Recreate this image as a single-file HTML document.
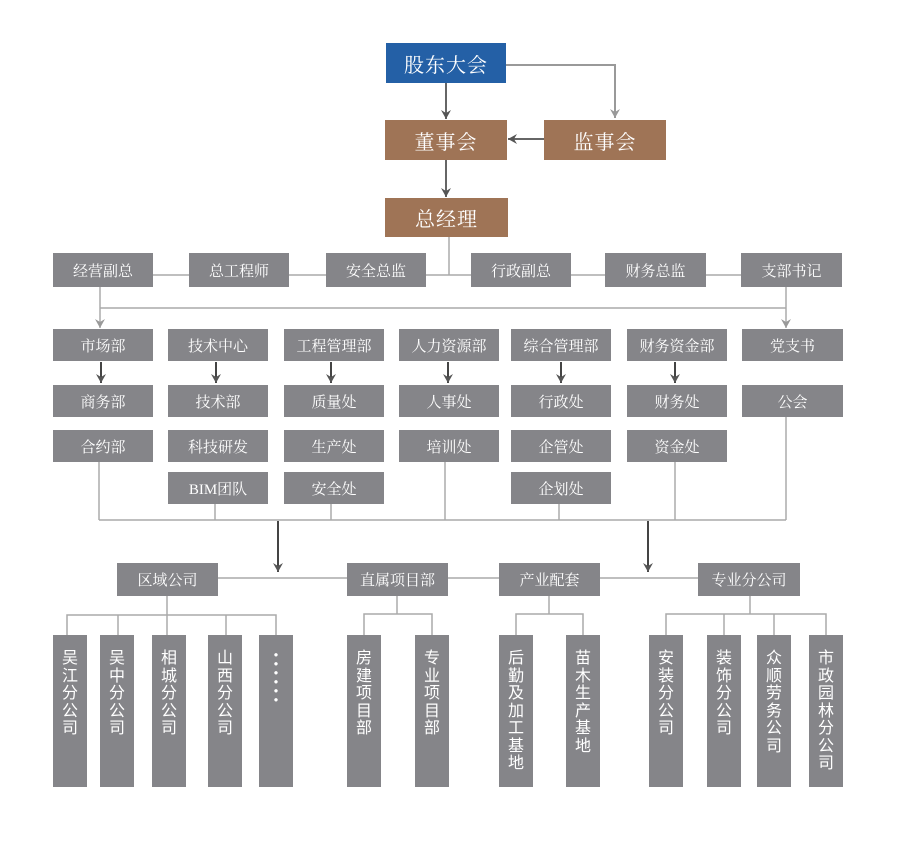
<!DOCTYPE html>
<html><head><meta charset="utf-8"><style>
body{margin:0;background:#fff;width:900px;height:850px;position:relative;overflow:hidden;font-family:"Liberation Serif","Noto Serif CJK SC","Noto Sans CJK SC",serif;}
.b{position:absolute;background:#858589;color:#fff;display:flex;align-items:center;justify-content:center;font-size:15px;white-space:nowrap;}
.t{font-size:20px;letter-spacing:1px}
.v{position:absolute;background:#858589;color:#fff;font-size:16px;line-height:17.5px;width:34px;text-align:center;top:635px;height:152px;padding-top:13px;box-sizing:border-box;font-family:"Noto Sans CJK SC",sans-serif;}
svg{position:absolute;left:0;top:0}
</style></head><body>
<svg width="900" height="850">
<defs>
<marker id="a" markerWidth="10" markerHeight="10" refX="9" refY="5" orient="auto" markerUnits="userSpaceOnUse"><path d="M0,0 L9,5 L0,10 L3,5 Z" fill="#555"/></marker>
<marker id="l" markerWidth="10" markerHeight="10" refX="9" refY="5" orient="auto" markerUnits="userSpaceOnUse"><path d="M0,0 L9,5 L0,10 L3,5 Z" fill="#999"/></marker>
</defs>
<g stroke="#666" stroke-width="2" fill="none">
<line x1="446" y1="83" x2="446" y2="119" marker-end="url(#a)"/>
<line x1="446" y1="160" x2="446" y2="197" marker-end="url(#a)"/>
<line x1="544" y1="139" x2="508" y2="139" marker-end="url(#a)"/>
</g>
<polyline points="506,65 615,65 615,118" stroke="#999" stroke-width="2" fill="none" marker-end="url(#l)"/>
<g stroke="#aaa" stroke-width="1.5" fill="none">
<line x1="449" y1="237" x2="449" y2="275"/>
<line x1="153" y1="275" x2="741" y2="275"/>
<line x1="100" y1="287" x2="100" y2="328" marker-end="url(#l)"/>
<line x1="786" y1="287" x2="786" y2="328" marker-end="url(#l)"/>
<line x1="100" y1="308" x2="786" y2="308"/>
<line x1="99" y1="462" x2="99" y2="520"/>
<line x1="215" y1="504" x2="215" y2="520"/>
<line x1="331" y1="504" x2="331" y2="520"/>
<line x1="445" y1="462" x2="445" y2="520"/>
<line x1="559" y1="504" x2="559" y2="520"/>
<line x1="675" y1="462" x2="675" y2="520"/>
<line x1="786" y1="417" x2="786" y2="520"/>
<line x1="99" y1="520" x2="786" y2="520"/>
<line x1="218" y1="578" x2="698" y2="578"/>
<line x1="167" y1="596" x2="167" y2="635"/>
<polyline points="67,635 67,615 276,615 276,635"/>
<line x1="118" y1="615" x2="118" y2="635"/>
<line x1="226" y1="615" x2="226" y2="635"/>
<line x1="397" y1="596" x2="397" y2="614"/>
<polyline points="364,635 364,614 432,614 432,635"/>
<line x1="549" y1="596" x2="549" y2="614"/>
<polyline points="516,635 516,614 583,614 583,635"/>
<line x1="750" y1="596" x2="750" y2="614"/>
<polyline points="666,635 666,614 826,614 826,635"/>
<line x1="724" y1="614" x2="724" y2="635"/>
<line x1="774" y1="614" x2="774" y2="635"/>
</g>
<g stroke="#444" stroke-width="2" fill="none">
<line x1="278" y1="521" x2="278" y2="572" marker-end="url(#a)"/>
<line x1="648" y1="521" x2="648" y2="572" marker-end="url(#a)"/>
<line x1="101" y1="362" x2="101" y2="383" marker-end="url(#a)"/>
<line x1="216" y1="362" x2="216" y2="383" marker-end="url(#a)"/>
<line x1="331" y1="362" x2="331" y2="383" marker-end="url(#a)"/>
<line x1="448" y1="362" x2="448" y2="383" marker-end="url(#a)"/>
<line x1="561" y1="362" x2="561" y2="383" marker-end="url(#a)"/>
<line x1="675" y1="362" x2="675" y2="383" marker-end="url(#a)"/>
</g>
</svg>

<div class="b t" style="left:386px;top:43px;width:120px;height:40px;background:#2460a6">股东大会</div>
<div class="b t" style="left:385px;top:120px;width:122px;height:40px;background:#9f7456">董事会</div>
<div class="b t" style="left:544px;top:120px;width:122px;height:40px;background:#9f7456">监事会</div>
<div class="b t" style="left:385px;top:198px;width:123px;height:39px;background:#9f7456">总经理</div>

<div class="b" style="left:53px;top:253px;width:100px;height:34px">经营副总</div>
<div class="b" style="left:189px;top:253px;width:100px;height:34px">总工程师</div>
<div class="b" style="left:326px;top:253px;width:100px;height:34px">安全总监</div>
<div class="b" style="left:471px;top:253px;width:100px;height:34px">行政副总</div>
<div class="b" style="left:605px;top:253px;width:101px;height:34px">财务总监</div>
<div class="b" style="left:741px;top:253px;width:101px;height:34px">支部书记</div>

<div class="b" style="left:53px;top:329px;width:100px;height:32px">市场部</div>
<div class="b" style="left:53px;top:385px;width:100px;height:32px">商务部</div>
<div class="b" style="left:53px;top:430px;width:100px;height:32px">合约部</div>

<div class="b" style="left:168px;top:329px;width:100px;height:32px">技术中心</div>
<div class="b" style="left:168px;top:385px;width:100px;height:32px">技术部</div>
<div class="b" style="left:168px;top:430px;width:100px;height:32px">科技研发</div>
<div class="b" style="left:168px;top:472px;width:100px;height:32px">BIM团队</div>

<div class="b" style="left:284px;top:329px;width:100px;height:32px">工程管理部</div>
<div class="b" style="left:284px;top:385px;width:100px;height:32px">质量处</div>
<div class="b" style="left:284px;top:430px;width:100px;height:32px">生产处</div>
<div class="b" style="left:284px;top:472px;width:100px;height:32px">安全处</div>

<div class="b" style="left:399px;top:329px;width:100px;height:32px">人力资源部</div>
<div class="b" style="left:399px;top:385px;width:100px;height:32px">人事处</div>
<div class="b" style="left:399px;top:430px;width:100px;height:32px">培训处</div>

<div class="b" style="left:511px;top:329px;width:100px;height:32px">综合管理部</div>
<div class="b" style="left:511px;top:385px;width:100px;height:32px">行政处</div>
<div class="b" style="left:511px;top:430px;width:100px;height:32px">企管处</div>
<div class="b" style="left:511px;top:472px;width:100px;height:32px">企划处</div>

<div class="b" style="left:627px;top:329px;width:100px;height:32px">财务资金部</div>
<div class="b" style="left:627px;top:385px;width:100px;height:32px">财务处</div>
<div class="b" style="left:627px;top:430px;width:100px;height:32px">资金处</div>

<div class="b" style="left:742px;top:329px;width:101px;height:32px">党支书</div>
<div class="b" style="left:742px;top:385px;width:101px;height:32px">公会</div>

<div class="b" style="left:117px;top:563px;width:101px;height:33px">区域公司</div>
<div class="b" style="left:347px;top:563px;width:101px;height:33px">直属项目部</div>
<div class="b" style="left:499px;top:563px;width:101px;height:33px">产业配套</div>
<div class="b" style="left:698px;top:563px;width:102px;height:33px">专业分公司</div>

<div class="v" style="left:53px">吴<br>江<br>分<br>公<br>司</div>
<div class="v" style="left:100px">吴<br>中<br>分<br>公<br>司</div>
<div class="v" style="left:152px">相<br>城<br>分<br>公<br>司</div>
<div class="v" style="left:208px">山<br>西<br>分<br>公<br>司</div>
<div class="v" style="left:259px;line-height:9px;padding-top:15px">·<br>·<br>·<br>·<br>·<br>·</div>
<div class="v" style="left:347px">房<br>建<br>项<br>目<br>部</div>
<div class="v" style="left:415px">专<br>业<br>项<br>目<br>部</div>
<div class="v" style="left:499px">后<br>勤<br>及<br>加<br>工<br>基<br>地</div>
<div class="v" style="left:566px">苗<br>木<br>生<br>产<br>基<br>地</div>
<div class="v" style="left:649px">安<br>装<br>分<br>公<br>司</div>
<div class="v" style="left:707px">装<br>饰<br>分<br>公<br>司</div>
<div class="v" style="left:757px">众<br>顺<br>劳<br>务<br>公<br>司</div>
<div class="v" style="left:809px">市<br>政<br>园<br>林<br>分<br>公<br>司</div>
</body></html>
